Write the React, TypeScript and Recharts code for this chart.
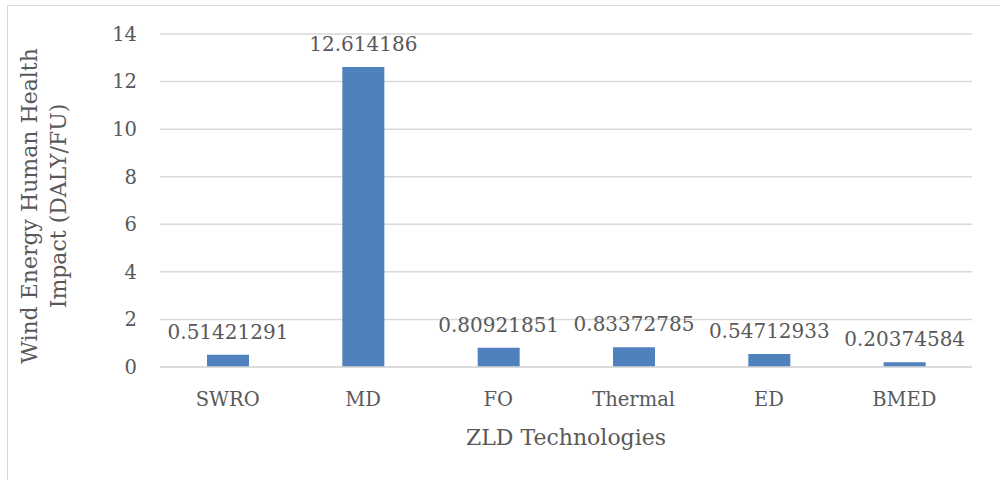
import { BarChart, Bar, XAxis, YAxis, CartesianGrid, LabelList, Label } from 'recharts';

const technologies = ['SWRO', 'MD', 'FO', 'Thermal', 'ED', 'BMED'];
const impactValues = [0.51421291, 12.614186, 0.80921851, 0.83372785, 0.54712933, 0.20374584];
const impactLabels = ['0.51421291', '12.614186', '0.80921851', '0.83372785', '0.54712933', '0.20374584'];
const yTicks = [0, 2, 4, 6, 8, 10, 12, 14];

const data = technologies.map((name, i) => ({
  name,
  value: impactValues[i],
  label: impactLabels[i],
}));

const FONT = '"DejaVu Serif", serif';
const TEXT = '#595959';
const GRID = '#d9d9d9';

const wrapStyle: React.CSSProperties = {
  position: 'absolute',
  left: 0,
  top: 0,
  width: 1000,
  height: 480,
  overflow: 'hidden',
  background: '#ffffff',
};

const frameStyle: React.CSSProperties = {
  position: 'absolute',
  left: 7,
  top: 5,
  width: 1000,
  height: 500,
  border: `1px solid ${GRID}`,
};

function YTitle(props: any) {
  const cx = 37;
  const cy = 206;
  return (
    <text
      x={cx}
      y={cy}
      transform={`rotate(-90, ${cx}, ${cy})`}
      textAnchor="middle"
      fill={TEXT}
      fontFamily={FONT}
      fontSize={22}
    >
      <tspan x={cx} dy={0}>Wind Energy Human Health</tspan>
      <tspan x={cx} dy={29}>Impact (DALY/FU)</tspan>
    </text>
  );
}

function XTitle(props: any) {
  const vb = props.viewBox || {};
  return (
    <text
      x={vb.x + vb.width / 2}
      y={vb.y + 78}
      textAnchor="middle"
      fill={TEXT}
      fontFamily={FONT}
      fontSize={22}
    >
      ZLD Technologies
    </text>
  );
}

export default function App() {
  return (
    <div style={wrapStyle}>
      <div style={frameStyle} />
      <div style={{ position: 'absolute', left: 0, top: 0 }}>
        <BarChart
          width={1000}
          height={480}
          data={data}
          margin={{ top: 34, right: 28, bottom: 83, left: 100 }}
        >
          <CartesianGrid vertical={false} stroke={GRID} strokeWidth={1.5} />
          <XAxis
            dataKey="name"
            height={30}
            axisLine={{ stroke: GRID, strokeWidth: 1.5 }}
            tickLine={false}
            tickSize={6}
            tickMargin={19}
            tick={{ fill: TEXT, fontFamily: FONT, fontSize: 19.5 }}
          >
            <Label content={<XTitle />} />
          </XAxis>
          <YAxis
            width={60}
            domain={[0, 14]}
            ticks={yTicks}
            axisLine={false}
            tickLine={false}
            tickSize={6}
            tickMargin={17}
            tick={{ fill: TEXT, fontFamily: FONT, fontSize: 19.5 }}
          >
            <Label content={<YTitle />} />
          </YAxis>
          <Bar dataKey="value" fill="#4f81bd" barSize={42} isAnimationActive={false}>
            <LabelList
              dataKey="label"
              position="top"
              offset={16}
              fill={TEXT}
              fontFamily={FONT}
              fontSize={20}
            />
          </Bar>
        </BarChart>
      </div>
    </div>
  );
}
